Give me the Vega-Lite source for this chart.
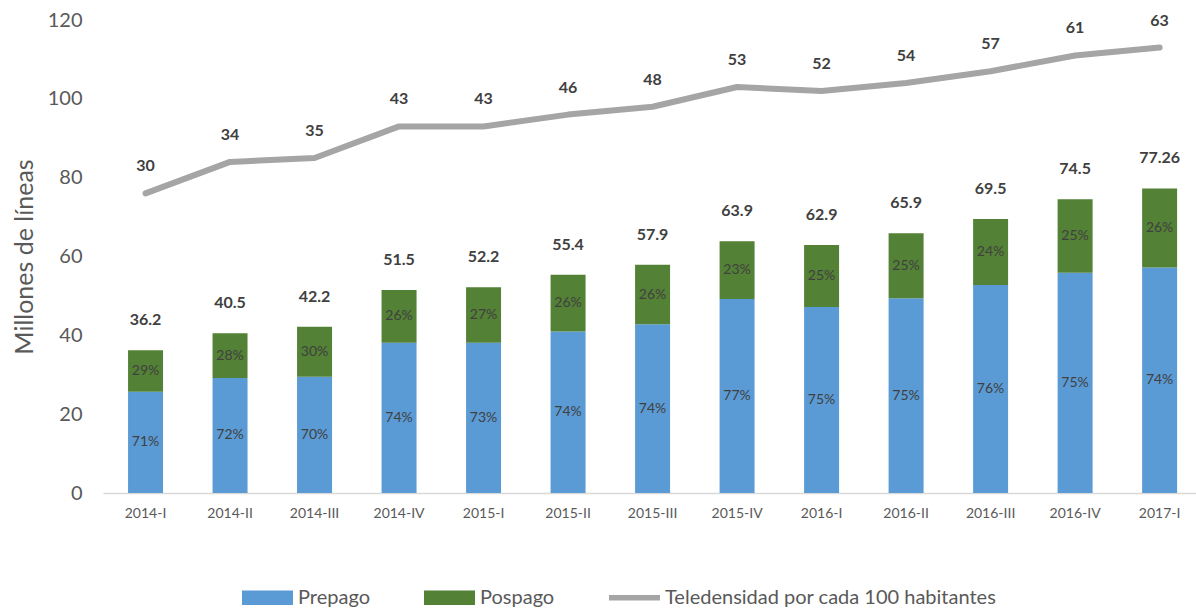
{
  "$schema": "https://vega.github.io/schema/vega-lite/v6.json",
  "width": 1093,
  "height": 473,
  "autosize": {"type": "none"},
  "padding": {"left": 103, "top": 20, "right": 0, "bottom": 115},
  "background": "white",
  "config": {
    "view": {"stroke": null},
    "font": "Lato",
    "axis": {"labelFont": "Lato", "titleFont": "Lato"},
    "legend": {"labelFont": "Lato"}
  },
  "datasets": {
    "segmentos": [
      {"periodo": "2014-I", "tipo": "Prepago", "orden": 1, "valor": 25.7, "pct": "71%"},
      {"periodo": "2014-I", "tipo": "Pospago", "orden": 2, "valor": 10.5, "pct": "29%"},
      {"periodo": "2014-II", "tipo": "Prepago", "orden": 1, "valor": 29.2, "pct": "72%"},
      {"periodo": "2014-II", "tipo": "Pospago", "orden": 2, "valor": 11.3, "pct": "28%"},
      {"periodo": "2014-III", "tipo": "Prepago", "orden": 1, "valor": 29.5, "pct": "70%"},
      {"periodo": "2014-III", "tipo": "Pospago", "orden": 2, "valor": 12.7, "pct": "30%"},
      {"periodo": "2014-IV", "tipo": "Prepago", "orden": 1, "valor": 38.1, "pct": "74%"},
      {"periodo": "2014-IV", "tipo": "Pospago", "orden": 2, "valor": 13.4, "pct": "26%"},
      {"periodo": "2015-I", "tipo": "Prepago", "orden": 1, "valor": 38.1, "pct": "73%"},
      {"periodo": "2015-I", "tipo": "Pospago", "orden": 2, "valor": 14.1, "pct": "27%"},
      {"periodo": "2015-II", "tipo": "Prepago", "orden": 1, "valor": 41.0, "pct": "74%"},
      {"periodo": "2015-II", "tipo": "Pospago", "orden": 2, "valor": 14.4, "pct": "26%"},
      {"periodo": "2015-III", "tipo": "Prepago", "orden": 1, "valor": 42.8, "pct": "74%"},
      {"periodo": "2015-III", "tipo": "Pospago", "orden": 2, "valor": 15.1, "pct": "26%"},
      {"periodo": "2015-IV", "tipo": "Prepago", "orden": 1, "valor": 49.2, "pct": "77%"},
      {"periodo": "2015-IV", "tipo": "Pospago", "orden": 2, "valor": 14.7, "pct": "23%"},
      {"periodo": "2016-I", "tipo": "Prepago", "orden": 1, "valor": 47.2, "pct": "75%"},
      {"periodo": "2016-I", "tipo": "Pospago", "orden": 2, "valor": 15.7, "pct": "25%"},
      {"periodo": "2016-II", "tipo": "Prepago", "orden": 1, "valor": 49.4, "pct": "75%"},
      {"periodo": "2016-II", "tipo": "Pospago", "orden": 2, "valor": 16.5, "pct": "25%"},
      {"periodo": "2016-III", "tipo": "Prepago", "orden": 1, "valor": 52.8, "pct": "76%"},
      {"periodo": "2016-III", "tipo": "Pospago", "orden": 2, "valor": 16.7, "pct": "24%"},
      {"periodo": "2016-IV", "tipo": "Prepago", "orden": 1, "valor": 55.9, "pct": "75%"},
      {"periodo": "2016-IV", "tipo": "Pospago", "orden": 2, "valor": 18.6, "pct": "25%"},
      {"periodo": "2017-I", "tipo": "Prepago", "orden": 1, "valor": 57.2, "pct": "74%"},
      {"periodo": "2017-I", "tipo": "Pospago", "orden": 2, "valor": 20.06, "pct": "26%"}
    ],
    "periodos": [
      {"periodo": "2014-I", "total": 36.2, "teledensidad": 30, "linea": 76},
      {"periodo": "2014-II", "total": 40.5, "teledensidad": 34, "linea": 84},
      {"periodo": "2014-III", "total": 42.2, "teledensidad": 35, "linea": 85},
      {"periodo": "2014-IV", "total": 51.5, "teledensidad": 43, "linea": 93},
      {"periodo": "2015-I", "total": 52.2, "teledensidad": 43, "linea": 93},
      {"periodo": "2015-II", "total": 55.4, "teledensidad": 46, "linea": 96},
      {"periodo": "2015-III", "total": 57.9, "teledensidad": 48, "linea": 98},
      {"periodo": "2015-IV", "total": 63.9, "teledensidad": 53, "linea": 103},
      {"periodo": "2016-I", "total": 62.9, "teledensidad": 52, "linea": 102},
      {"periodo": "2016-II", "total": 65.9, "teledensidad": 54, "linea": 104},
      {"periodo": "2016-III", "total": 69.5, "teledensidad": 57, "linea": 107},
      {"periodo": "2016-IV", "total": 74.5, "teledensidad": 61, "linea": 111},
      {"periodo": "2017-I", "total": 77.26, "teledensidad": 63, "linea": 113}
    ]
  },
  "layer": [
    {
      "data": {"name": "segmentos"},
      "transform": [
        {"stack": "valor", "groupby": ["periodo"], "sort": [{"field": "orden", "order": "ascending"}], "as": ["v0", "v1"]}
      ],
      "layer": [
        {
          "mark": {"type": "bar"},
          "encoding": {
            "x": {
              "field": "periodo", "type": "ordinal", "sort": null,
              "scale": {"paddingInner": 0.586, "paddingOuter": 0.26, "align": 0.57},
              "axis": {
                "title": null, "labelAngle": 0, "labelFontSize": 14, "labelColor": "#595959",
                "ticks": false, "labelPadding": 13, "domainColor": "#D9D9D9", "domainWidth": 1.5, "grid": false
              }
            },
            "y": {
              "field": "v0", "type": "quantitative",
              "scale": {"domain": [0, 120], "nice": false},
              "axis": {
                "title": "Millones de líneas", "titleFontSize": 25, "titleFontWeight": "normal", "titleColor": "#595959",
                "titlePadding": 10, "values": [0, 20, 40, 60, 80, 100, 120], "labelFontSize": 20, "labelColor": "#595959",
                "labelPadding": 21, "ticks": false, "domain": false, "grid": false
              }
            },
            "y2": {"field": "v1"},
            "color": {
              "field": "tipo", "type": "nominal",
              "scale": {
                "domain": ["Prepago", "Pospago", "Teledensidad por cada 100 habitantes"],
                "range": ["#5B9BD5", "#538135", "#A5A5A5"]
              },
              "legend": {
                "title": null, "orient": "none", "direction": "horizontal", "legendX": 139, "legendY": 552,
                "labelFontSize": 20, "labelColor": "#595959", "labelOffset": 5, "columnPadding": 54, "labelLimit": 0,
                "symbolSize": 2601, "symbolStrokeWidth": 0,
                "symbolType": "M-1,-0.28L1,-0.28L1,0.28L-1,0.28Z",
                "encode": {
                  "symbols": {
                    "update": {
                      "shape": {"signal": "datum.value === 'Teledensidad por cada 100 habitantes' ? 'M-1,-0.11L1,-0.11L1,0.11L-1,0.11Z' : 'M-1,-0.28L1,-0.28L1,0.28L-1,0.28Z'"},
                      "fill": {"scale": "color", "field": "value"},
                      "strokeWidth": {"value": 0},
                      "opacity": {"value": 1}
                    }
                  }
                }
              }
            }
          }
        },
        {
          "transform": [
            {"fold": ["v0", "v1"], "as": ["extremo", "v"]}
          ],
          "mark": {"type": "text", "fontSize": 14, "color": "#404040", "baseline": "middle"},
          "encoding": {
            "x": {"field": "periodo", "type": "ordinal", "sort": null},
            "y": {"field": "v", "aggregate": "mean", "type": "quantitative", "title": "Millones de líneas"},
            "detail": {"field": "tipo"},
            "text": {"field": "pct"}
          }
        }
      ]
    },
    {
      "data": {"name": "periodos"},
      "layer": [
        {
          "mark": {"type": "text", "fontSize": 16, "fontWeight": "bold", "color": "#404040", "baseline": "alphabetic", "dy": -25},
          "encoding": {
            "x": {"field": "periodo", "type": "ordinal", "sort": null},
            "y": {"field": "total", "type": "quantitative", "title": "Millones de líneas"},
            "text": {"field": "total"}
          }
        },
        {
          "mark": {"type": "line", "strokeWidth": 6, "strokeCap": "round", "strokeJoin": "round"},
          "encoding": {
            "x": {"field": "periodo", "type": "ordinal", "sort": null},
            "y": {"field": "linea", "type": "quantitative", "title": "Millones de líneas"},
            "color": {"datum": "Teledensidad por cada 100 habitantes"}
          }
        },
        {
          "mark": {"type": "text", "fontSize": 16, "fontWeight": "bold", "color": "#404040", "baseline": "alphabetic", "dy": -22},
          "encoding": {
            "x": {"field": "periodo", "type": "ordinal", "sort": null},
            "y": {"field": "linea", "type": "quantitative", "title": "Millones de líneas"},
            "text": {"field": "teledensidad"}
          }
        }
      ]
    }
  ]
}
